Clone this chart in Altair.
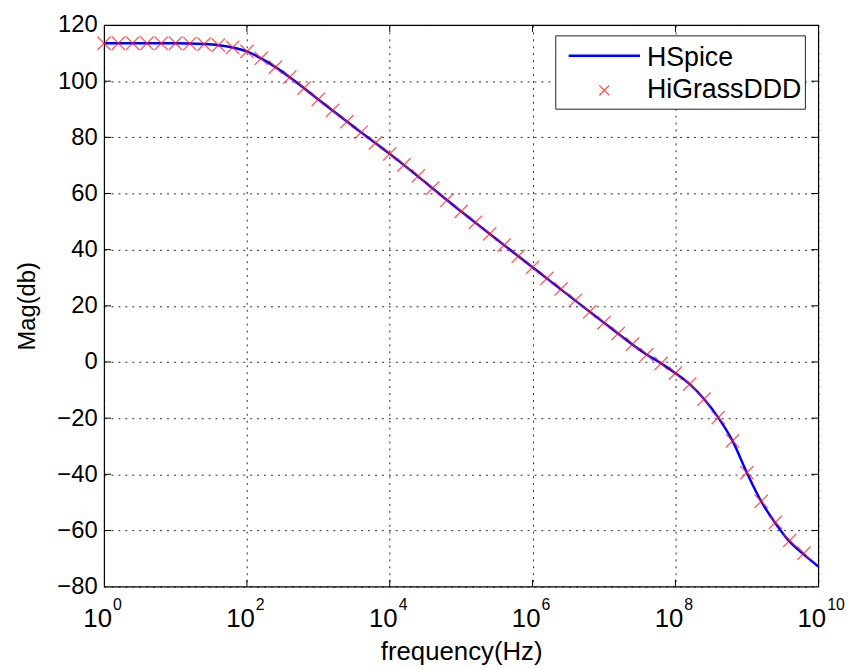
import altair as alt
import pandas as pd

# ---- data ----
# HiGrassDDD markers: log10(frequency) and magnitude (dB)
marker_exp = [0.0, 0.2, 0.4, 0.6, 0.8, 1.0, 1.2, 1.4, 1.6, 1.8,
              2.0, 2.2, 2.4, 2.6, 2.8, 3.0, 3.2, 3.4, 3.6, 3.8,
              4.0, 4.2, 4.4, 4.6, 4.8, 5.0, 5.2, 5.4, 5.6, 5.8,
              6.0, 6.2, 6.4, 6.6, 6.8, 7.0, 7.2, 7.4, 7.6, 7.8,
              8.0, 8.2, 8.4, 8.6, 8.8, 9.0, 9.2, 9.4, 9.6, 9.8]
marker_mag = [113.5, 113.5, 113.5, 113.5, 113.5, 113.5, 113.4, 113.2, 112.8, 112.0,
              110.6, 108.1, 105.0, 101.4, 97.5, 93.5, 89.6, 85.6, 81.8, 78.0,
              74.1, 70.2, 66.3, 61.9, 57.6, 53.6, 49.7, 45.6, 41.6, 37.7,
              33.7, 29.8, 26.0, 21.9, 17.8, 14.0, 10.2, 6.4, 2.6, -0.5,
              -4.0, -7.9, -13.2, -19.8, -28.1, -39.4, -49.6, -57.1, -63.5, -68.1]

# HSpice curve: log10(frequency) and magnitude (dB)
line_exp = [0.0, 0.5, 1.0, 1.4, 1.6, 1.8, 2.0, 2.2, 2.4, 2.6, 2.8, 3.0, 3.5,
            4.0, 5.0, 6.0, 7.0, 7.6, 7.8, 8.0, 8.2, 8.4, 8.6, 8.8, 9.0,
            9.2, 9.4, 9.6, 9.8, 10.0]
line_mag = [113.5, 113.5, 113.5, 113.2, 112.8, 112.0, 110.6, 108.1, 105.0, 101.4, 97.5, 93.5, 83.7,
            74.1, 53.6, 33.7, 14.0, 2.6, -0.5, -4.0, -7.9, -13.2, -19.8, -28.1, -39.4,
            -49.6, -57.4, -64.0, -68.6, -72.8]

series_names = ["HSpice", "HiGrassDDD"]

x_tick_vals = [1, 1e2, 1e4, 1e6, 1e8, 1e10]
x_tick_base = ["10", "10", "10", "10", "10", "10"]
x_tick_exps = ["0", "2", "4", "6", "8", "10"]
y_tick_vals = [-80, -60, -40, -20, 0, 20, 40, 60, 80, 100, 120]

# ---- tables ----
markers = pd.DataFrame({"freq": [10 ** e for e in marker_exp], "mag": marker_mag})
curve = pd.DataFrame({"freq": [10 ** e for e in line_exp], "mag": line_mag})
xt = pd.DataFrame({"freq": x_tick_vals, "base": x_tick_base, "exp": x_tick_exps})
xt_inner = xt.iloc[1:-1]
yt_inner = pd.DataFrame({"mag": y_tick_vals[1:-1]})

W, H = 721, 567
FONT = "Liberation Sans"

xs = alt.Scale(type="log", domain=[1, 1e10], nice=False)
ys = alt.Scale(domain=[-80, 120], nice=False, zero=False)

x_axis = alt.Axis(values=x_tick_vals, labels=False, title="frequency(Hz)",
                  titleFont=FONT, titleFontSize=26, titlePadding=53,
                  titleFontWeight="normal")
y_axis = alt.Axis(values=y_tick_vals, labelPadding=7, title="Mag(db)",
                  titleFont=FONT, titleFontSize=24, titlePadding=18,
                  titleFontWeight="normal")

X = alt.X("freq:Q", scale=xs, axis=x_axis)
Y = alt.Y("mag:Q", scale=ys, axis=y_axis)

line = alt.Chart(curve).mark_line(color="#0000ff", strokeWidth=2.5,
                                  interpolate="monotone").encode(x=X, y=Y)

xpath = "M-1,-1L1,1M-1,1L1,-1"
pts = alt.Chart(markers).mark_point(shape=xpath, size=180, filled=False,
                                    color="#ff2020", strokeWidth=1.4,
                                    opacity=0.7).encode(x=X, y=Y)

tick_b = alt.Chart(xt_inner).mark_rule(color="black", strokeWidth=1).encode(
    x=X, y=alt.value(H), y2=alt.value(H - 7))
tick_t = alt.Chart(xt_inner).mark_rule(color="black", strokeWidth=1).encode(
    x=X, y=alt.value(0), y2=alt.value(7))
tick_l = alt.Chart(yt_inner).mark_rule(color="black", strokeWidth=1).encode(
    y=Y, x=alt.value(0), x2=alt.value(7))
tick_r = alt.Chart(yt_inner).mark_rule(color="black", strokeWidth=1).encode(
    y=Y, x=alt.value(W - 7), x2=alt.value(W))

bases = alt.Chart(xt).mark_text(align="right", baseline="alphabetic", dx=8, font=FONT,
                                fontSize=26, color="black").encode(
    x=X, y=alt.value(H + 41), text="base:N")
exps = alt.Chart(xt).mark_text(align="left", baseline="alphabetic", dx=9, font=FONT,
                               fontSize=16, color="black").encode(
    x=X, y=alt.value(H + 24), text="exp:N")

# ---- legend ----
leg_df = pd.DataFrame({"label": series_names})
leg_box = alt.Chart(leg_df.iloc[:1]).mark_rect(fill="white", stroke="#222222",
                                               strokeWidth=1).encode(
    x=alt.value(456), x2=alt.value(708), y=alt.value(11), y2=alt.value(85))
leg_line = alt.Chart(leg_df.iloc[:1]).mark_rule(color="#0000ff", strokeWidth=2.5).encode(
    x=alt.value(469), x2=alt.value(541), y=alt.value(31))
leg_pt = alt.Chart(leg_df.iloc[1:]).mark_point(shape=xpath, size=100, filled=False,
                                               color="#ff2020", strokeWidth=1.3,
                                               opacity=0.8).encode(
    x=alt.value(505), y=alt.value(66))
leg_t1 = alt.Chart(leg_df.iloc[:1]).mark_text(align="left", baseline="alphabetic",
                                              font=FONT, fontSize=27, color="black").encode(
    x=alt.value(548), y=alt.value(41), text="label:N")
leg_t2 = alt.Chart(leg_df.iloc[1:]).mark_text(align="left", baseline="alphabetic",
                                              font=FONT, fontSize=27, color="black").encode(
    x=alt.value(548), y=alt.value(74), text="label:N")

chart = alt.layer(line, pts, tick_b, tick_t, tick_l, tick_r, bases, exps,
                  leg_box, leg_line, leg_pt, leg_t1, leg_t2).properties(
    width=W, height=H,
    autosize=alt.AutoSizeParams(type="none"),
    padding={"left": 97, "top": 14, "right": 28, "bottom": 80},
    background="white",
).configure_view(stroke="black", strokeWidth=1.2).configure_axis(
    labelFont=FONT, labelFontSize=24, labelColor="black", titleColor="black",
    grid=True, gridColor="black", gridDash=[2, 5], gridOpacity=0.85, gridWidth=1,
    domain=False, ticks=False,
)

chart.save("out.html", embed_options={"renderer": "svg", "actions": False})
